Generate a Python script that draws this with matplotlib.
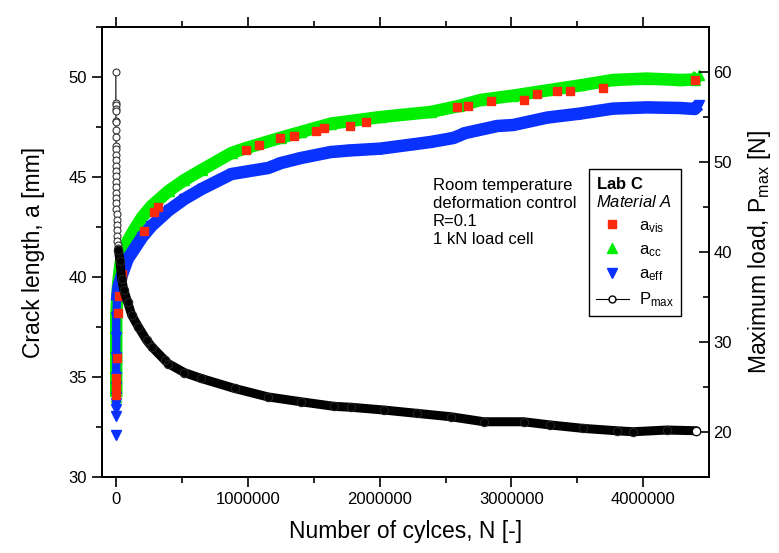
import matplotlib
matplotlib.use("Agg")
import matplotlib.pyplot as plt
from matplotlib.lines import Line2D
from matplotlib.ticker import MultipleLocator

plt.rcParams['font.family'] = ['Liberation Sans', 'DejaVu Sans']
plt.rcParams['mathtext.fontset'] = 'custom'
plt.rcParams['mathtext.rm'] = 'Liberation Sans'
plt.rcParams['mathtext.it'] = 'Liberation Sans:italic'
plt.rcParams['mathtext.bf'] = 'Liberation Sans:bold'

RED = '#fa2a0c'
GREEN = '#00ee00'
BLUE = '#0a32ff'

# visual crack length a_vis [mm]
n_vis = [0, 2000, 4000, 6000, 13600, 23000, 49000, 210000, 288000, 316000,
         989000, 1089000, 1248000, 1349000, 1518000, 1576000, 1772000, 1898000,
         2589000, 2672000, 2846000, 3095000, 3190000, 3342000, 3443000, 3695000, 4395000]
a_vis = [34.1, 34.5, 34.97, 35.93, 38.2, 39.03, 40.15, 42.3, 43.27, 43.5,
         46.37, 46.58, 46.97, 47.03, 47.28, 47.45, 47.57, 47.75,
         48.48, 48.55, 48.8, 48.83, 49.13, 49.32, 49.32, 49.45, 49.87]

# compliance crack length a_cc [mm]
n_cc = [3000, 3000, 3000, 3000, 3000, 10000, 18000, 30000, 44000, 90000, 142000,
        200000, 270000, 400000, 520000, 650000, 877000, 989000, 1253000, 1404000,
        1631000, 2009000, 2387000, 2600000, 2765000, 3014000, 3270000, 3520000,
        3770000, 4027000, 4277000, 4390000, 4420000]
a_cc = [34.0, 35.0, 36.0, 37.0, 38.0, 38.9, 39.7, 40.4, 41.0, 41.8, 42.4,
        43.0, 43.55, 44.3, 44.85, 45.35, 46.2, 46.45, 46.97, 47.25,
        47.67, 48.0, 48.25, 48.55, 48.85, 49.07, 49.33, 49.58,
        49.85, 49.92, 49.85, 49.87, 50.1]

# effective crack length a_eff [mm]
n_eff = [3000, 3000, 3000, 3000, 3000, 3000, 3000, 3000, 3000, 3000, 8000, 20000,
         44600, 90000, 142000, 200000, 270000, 400000, 520000, 650000, 877000,
         1155000, 1253000, 1404000, 1631000, 1782000, 2009000, 2387000, 2560000,
         2651000, 2893000, 3014000, 3270000, 3520000, 3770000, 4027000, 4277000,
         4390000, 4420000]
a_eff = [32.08, 33.03, 33.42, 33.7, 34.0, 34.5, 35.0, 36.0, 37.0, 38.0, 38.8, 39.5,
         40.08, 40.9, 41.42, 42.0, 42.55, 43.33, 43.9, 44.4, 45.15,
         45.45, 45.7, 45.95, 46.25, 46.33, 46.42, 46.75, 46.95,
         47.2, 47.55, 47.6, 47.97, 48.17, 48.42, 48.48, 48.45,
         48.4, 48.6]

# maximum load P_max [N], first cycles
n_p_early = [0, 300, 400, 500, 600, 800, 900, 1000, 1200, 1400, 1500, 1700, 1900,
             2100, 2300, 2500, 2800, 3100, 3400, 3800, 4200, 4700, 5300, 6000,
             7000, 8000, 9500, 11000, 13000, 16000, 20000]
p_early = [60.0, 56.5, 56.3, 55.9, 55.7, 54.6, 54.4, 53.6, 52.8, 51.8, 51.4, 50.8,
           50.2, 49.6, 49.0, 48.4, 47.8, 47.2, 46.6, 46.0, 45.4, 44.8, 44.2, 43.6,
           43.0, 42.4, 41.8, 41.2, 40.8, 40.5, 40.2]

# maximum load P_max [N], rest of the test
n_p = [20000, 31000, 44000, 60000, 90000, 120000, 170000, 233000, 274000, 370000,
       397000, 520000, 648000, 900000, 1153000, 1404000, 1656000, 1782000, 2034000,
       2286000, 2538000, 2790000, 3092000, 3294000, 3546000, 3798000, 3924000,
       4176000, 4403000]
p_max = [40.2, 39.0, 37.0, 35.8, 34.4, 33.0, 31.7, 30.2, 29.45, 28.0,
         27.6, 26.6, 25.95, 24.84, 23.9, 23.36, 22.85, 22.75, 22.44,
         22.07, 21.7, 21.14, 21.14, 20.78, 20.4, 20.14, 20.03,
         20.22, 20.14]

fig = plt.figure(figsize=(7.79, 5.53), dpi=100)
ax = fig.add_axes([0.1306, 0.1374, 0.7789, 0.8138])
ax2 = ax.twinx()

# crack length curves
ax.plot(n_cc, a_cc, color=GREEN, lw=9, solid_capstyle='butt', zorder=2)
ax.plot(n_cc, a_cc, '^', color=GREEN, ms=7, zorder=2)
ax.plot(n_eff[10:], a_eff[10:], color=BLUE, lw=9, solid_capstyle='butt', zorder=3)
ax.plot(n_eff[3:11], a_eff[3:11], color=BLUE, lw=6, zorder=3)
ax.plot(n_eff, a_eff, 'v', color=BLUE, ms=7, zorder=3)
ax.plot(n_vis, a_vis, 's', color=RED, ms=6, zorder=4)

# load curve
ax2.plot(n_p_early, p_early, '-o', color='black', lw=0.8, ms=5,
         mfc='white', mec='#333333', mew=0.8)
ax2.plot(n_p, p_max, color='black', lw=6.5, solid_capstyle='round')
ax2.plot(n_p, p_max, 'o', ms=6, mfc='none', mec='#222222', mew=0.8)
ax2.plot(n_p[-1:], p_max[-1:], 'o', ms=6, mfc='white', mec='black', mew=0.8)

ax.set_xlim(-107000, 4494000)
ax.set_ylim(30, 52.5)
ax2.set_ylim(15, 65)

ax.xaxis.set_major_locator(MultipleLocator(1000000))
ax.xaxis.set_minor_locator(MultipleLocator(500000))
ax.yaxis.set_major_locator(MultipleLocator(5))
ax.yaxis.set_minor_locator(MultipleLocator(2.5))
ax2.yaxis.set_major_locator(MultipleLocator(10))
ax2.yaxis.set_minor_locator(MultipleLocator(5))
ax.ticklabel_format(axis='x', style='plain', useOffset=False)

ax.tick_params(axis='x', which='both', direction='out', top=True, labelsize=12, width=1.2)
ax.tick_params(axis='y', which='both', direction='out', labelsize=12, width=1.2)
ax.tick_params(which='major', length=7)
ax.tick_params(which='minor', length=4)
ax2.tick_params(axis='y', which='both', direction='in', labelsize=12, width=1.2)
ax2.tick_params(which='major', length=7)
ax2.tick_params(which='minor', length=4)
for a in (ax, ax2):
    for s in a.spines.values():
        s.set_linewidth(1.3)

ax.set_xlabel('Number of cylces, N [-]', fontsize=16.5, labelpad=10)
ax.set_ylabel('Crack length, a [mm]', fontsize=16.5, labelpad=17)
ax2.set_ylabel(r'Maximum load, P$_{\mathrm{max}}$ [N]', fontsize=16.5, labelpad=10)

ax.text(0.546, 0.665, 'Room temperature\ndeformation control\nR=0.1\n1 kN load cell',
        transform=ax.transAxes, fontsize=12, va='top', ha='left', linespacing=1.25)

handles = [
    Line2D([], [], ls='none', marker='s', color=RED, ms=6),
    Line2D([], [], ls='none', marker='^', color=GREEN, ms=7),
    Line2D([], [], ls='none', marker='v', color=BLUE, ms=7),
    Line2D([], [], color='black', lw=0.8, marker='o', ms=5, mfc='white', mec='black'),
]
labels = [r'a$_{\mathrm{vis}}$', r'a$_{\mathrm{cc}}$', r'a$_{\mathrm{eff}}$', r'P$_{\mathrm{max}}$']
leg = ax2.legend(handles, labels, loc='upper left', bbox_to_anchor=(0.803, 0.684),
                 borderaxespad=0, fontsize=12, frameon=True, fancybox=False,
                 edgecolor='black', framealpha=1, handlelength=2.0, handletextpad=0.6,
                 labelspacing=0.45, borderpad=0.4,
                 title=r'$\mathbf{Lab\ C}$' + '\n' + r'$\mathit{Material\ A}$',
                 title_fontsize=12, alignment='left')
leg.get_frame().set_linewidth(1.0)

fig.savefig('out.png', dpi=100)
